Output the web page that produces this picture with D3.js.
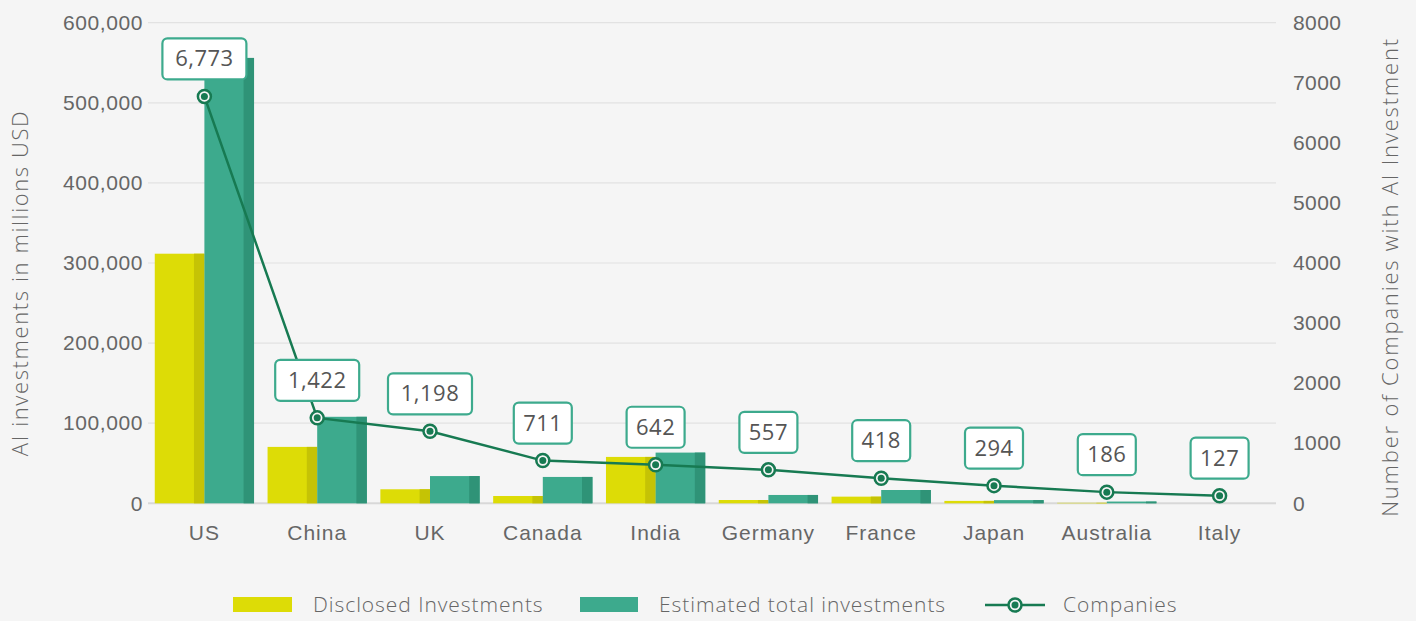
<!DOCTYPE html>
<html>
<head>
<meta charset="utf-8">
<script src="https://cdn.jsdelivr.net/npm/d3@7"></script>
<style>
  body { margin: 0; background: #f5f5f5; }
  svg { display: block; font-family: "Open Sans", Lato, sans-serif; }
</style>
</head>
<body>
<div id="chart"></div>
<script>
const countries = ["US", "China", "UK", "Canada", "India", "Germany", "France", "Japan", "Australia", "Italy"];
const disclosed = [311600, 70400, 17500, 9100, 57900, 4100, 8300, 3000, 600, 0];
const estimated = [556000, 108000, 34000, 32900, 63300, 10400, 16600, 4000, 2200, 0];
const companies = [6773, 1422, 1198, 711, 642, 557, 418, 294, 186, 127];
const leftTicks = [0, 100000, 200000, 300000, 400000, 500000, 600000];
const rightTicks = [0, 1000, 2000, 3000, 4000, 5000, 6000, 7000, 8000];

const W = 1416, H = 621;
const MARGIN = { TOP: 22.7, BOTTOM: 117.7, LEFT: 148, RIGHT: 140 };
const w = W - MARGIN.LEFT - MARGIN.RIGHT;
const h = H - MARGIN.TOP - MARGIN.BOTTOM;

const YELLOW = "#dddc06", YELLOW_DK = "#c5c305";
const TEAL = "#3daa8d", TEAL_DK = "#2f9377";
const LINE = "#177a52";
const TEXT = "#666";

const svg = d3.select("#chart").append("svg")
  .attr("width", W).attr("height", H)
  .style("background", "#f5f5f5");

const g = svg.append("g").attr("transform", `translate(${MARGIN.LEFT},${MARGIN.TOP})`);

// scales
const x = d3.scaleBand().domain(countries).range([0, w]).paddingInner(0.12).paddingOuter(0.06);
const xSub = d3.scaleBand().domain(["disclosed", "estimated"]).range([0, x.bandwidth()]);
const yL = d3.scaleLinear().domain([0, 600000]).range([h, 0]);
const yR = d3.scaleLinear().domain([0, 8000]).range([h, 0]);

// gridlines
g.append("g").selectAll("line").data(leftTicks).join("line")
  .attr("x1", 0).attr("x2", w)
  .attr("y1", d => yL(d)).attr("y2", d => yL(d))
  .attr("stroke", d => d === 0 ? "#d8d8d8" : "#e2e2e2")
  .attr("stroke-width", d => d === 0 ? 2 : 1.2);

// left axis
const leftAxis = g.append("g")
  .call(d3.axisLeft(yL).tickValues(leftTicks).tickFormat(d3.format(",")).tickSize(0).tickPadding(5));
leftAxis.select(".domain").remove();
leftAxis.selectAll("text").attr("fill", TEXT).attr("font-size", 21).attr("font-weight", 300)
  .attr("letter-spacing", 0.6);

// right axis
const rightAxis = g.append("g").attr("transform", `translate(${w},0)`)
  .call(d3.axisRight(yR).tickValues(rightTicks).tickFormat(d3.format("d")).tickSize(0).tickPadding(17));
rightAxis.select(".domain").remove();
rightAxis.selectAll("text").attr("fill", TEXT).attr("font-size", 21).attr("font-weight", 300)
  .attr("letter-spacing", 0.4);

// x axis
const xAxis = g.append("g").attr("transform", `translate(0,${h})`)
  .call(d3.axisBottom(x).tickSize(0).tickPadding(22));
xAxis.select(".domain").remove();
xAxis.selectAll("text").attr("fill", TEXT).attr("font-size", 21).attr("font-weight", 300)
  .attr("letter-spacing", 1);

// axis titles
svg.append("text")
  .attr("transform", `translate(28,283) rotate(-90)`)
  .attr("text-anchor", "middle").attr("fill", TEXT).attr("font-size", 22).attr("font-weight", 300)
  .attr("letter-spacing", 1.6)
  .text("AI investments in millions USD");
svg.append("text")
  .attr("transform", `translate(1398,277) rotate(-90)`)
  .attr("text-anchor", "middle").attr("fill", TEXT).attr("font-size", 22).attr("font-weight", 300)
  .attr("letter-spacing", 1.8)
  .text("Number of Companies with AI Investment");

// bars
const rows = countries.map((c, i) => ({ c, disclosed: disclosed[i], estimated: estimated[i], companies: companies[i] }));
const series = [
  { key: "disclosed", color: YELLOW, dark: YELLOW_DK },
  { key: "estimated", color: TEAL, dark: TEAL_DK }
];
const groups = g.append("g").selectAll("g").data(rows).join("g")
  .attr("transform", d => `translate(${x(d.c)},0)`);
series.forEach(s => {
  const bw = xSub.bandwidth();
  groups.append("rect")
    .attr("x", xSub(s.key)).attr("width", bw)
    .attr("y", d => yL(d[s.key])).attr("height", d => h - yL(d[s.key]))
    .attr("fill", s.color);
  groups.append("rect")
    .attr("x", xSub(s.key) + bw * 0.79).attr("width", bw * 0.21)
    .attr("y", d => yL(d[s.key])).attr("height", d => h - yL(d[s.key]))
    .attr("fill", s.dark);
});

// companies line
const cx = d => x(d.c) + x.bandwidth() / 2;
g.append("path").datum(rows)
  .attr("fill", "none").attr("stroke", LINE).attr("stroke-width", 2.5)
  .attr("d", d3.line().x(cx).y(d => yR(d.companies)));

const markers = g.append("g").selectAll("g").data(rows).join("g")
  .attr("transform", d => `translate(${cx(d)},${yR(d.companies)})`);
markers.append("circle").attr("r", 6.5).attr("fill", "#f5f5f5").attr("stroke", LINE).attr("stroke-width", 2.5);
markers.append("circle").attr("r", 3.5).attr("fill", LINE);

// value labels
const fmt = d3.format(",");
const labels = markers.append("g").attr("transform", "translate(0,-38)");
labels.append("rect")
  .attr("x", d => -(fmt(d.companies).length > 3 ? 84 : 58) / 2)
  .attr("width", d => fmt(d.companies).length > 3 ? 84 : 58)
  .attr("y", -20).attr("height", 41).attr("rx", 5)
  .attr("fill", "#fff").attr("stroke", TEAL).attr("stroke-width", 2.2);
labels.append("text")
  .attr("text-anchor", "middle").attr("dy", 8)
  .attr("fill", "#555").attr("font-size", 22).attr("letter-spacing", 0.5)
  .text(d => fmt(d.companies));

// legend
const legend = svg.append("g").attr("transform", "translate(0,605)");
const legendText = (xp, t) => legend.append("text").attr("x", xp).attr("y", 7)
  .attr("fill", TEXT).attr("font-size", 21).attr("font-weight", 300).attr("letter-spacing", 0.95).text(t);
legend.append("rect").attr("x", 233).attr("y", -8).attr("width", 59).attr("height", 15).attr("fill", YELLOW);
legendText(313, "Disclosed Investments");
legend.append("rect").attr("x", 580).attr("y", -8).attr("width", 58).attr("height", 15).attr("fill", TEAL);
legendText(659, "Estimated total investments");
legend.append("line").attr("x1", 985).attr("x2", 1045).attr("y1", 0).attr("y2", 0).attr("stroke", LINE).attr("stroke-width", 2.5);
legend.append("circle").attr("cx", 1015).attr("r", 6.5).attr("fill", "#f5f5f5").attr("stroke", LINE).attr("stroke-width", 2.5);
legend.append("circle").attr("cx", 1015).attr("r", 3.5).attr("fill", LINE);
legendText(1063, "Companies");
</script>
</body>
</html>
